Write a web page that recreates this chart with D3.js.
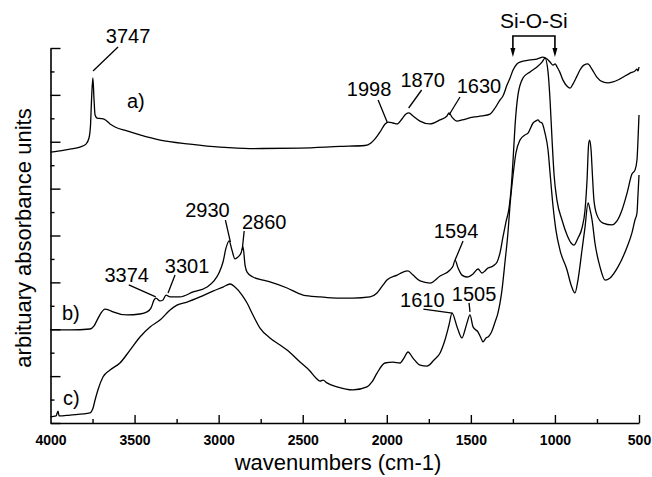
<!DOCTYPE html>
<html>
<head>
<meta charset="utf-8">
<script src="https://cdn.jsdelivr.net/npm/d3@7"></script>
<style>
  body { margin: 0; background: #fff; }
  svg { display: block; font-family: "Liberation Sans", Arial, Helvetica, sans-serif; }
</style>
</head>
<body>
<svg id="chart" width="652" height="477"></svg>
<script>
// spectra: [wavenumber, arbitrary absorbance]
const spectrumA = [
  [4000,11.56],[3955,11.60],[3884,11.69],[3825,11.77],[3789,11.90],[3771,12.16],[3762,12.71],[3756,13.78],
  [3748,14.72],[3741,13.78],[3735,13.14],[3723,13.01],[3700,12.99],[3682,12.97],[3646,12.76],[3616,12.63],
  [3545,12.46],[3468,12.29],[3348,12.07],[3170,11.90],[2992,11.77],[2814,11.71],[2516,11.73],[2278,11.80],
  [2130,11.84],[2094,11.95],[2070,12.12],[2040,12.42],[2010,12.76],[1990,12.84],[1963,12.80],[1939,12.76],
  [1910,12.97],[1886,13.18],[1868,13.23],[1844,13.10],[1803,12.88],[1743,12.76],[1684,12.93],[1642,13.10],
  [1630,13.23],[1612,13.05],[1582,12.88],[1552,12.93],[1487,13.05],[1434,13.10],[1386,13.18],[1356,13.44],
  [1327,13.78],[1309,13.95],[1285,14.42],[1267,14.72],[1249,15.06],[1226,15.32],[1208,15.40],[1149,15.49],
  [1107,15.53],[1071,15.61],[1047,15.53],[1029,15.40],[1011,15.27],[999,15.32],[987,15.19],[971,14.97],
  [952,14.63],[929,14.38],[910,14.29],[893,14.46],[869,14.80],[851,15.06],[828,15.27],[804,15.32],
  [780,15.10],[751,14.76],[715,14.55],[684,14.51],[655,14.55],[613,14.68],[553,14.93],[524,15.02],
  [512,15.10],[506,15.02],[500,15.19]
];

const spectrumB = [
  [4000,3.97],[3884,3.97],[3765,4.01],[3741,4.14],[3723,4.39],[3700,4.69],[3676,4.86],[3652,4.82],
  [3628,4.74],[3545,4.61],[3468,4.65],[3426,4.74],[3402,4.91],[3384,5.25],[3373,5.33],[3349,5.21],
  [3331,5.25],[3313,5.46],[3289,5.38],[3230,5.38],[3152,5.59],[3069,5.80],[3028,6.06],[2998,6.40],
  [2974,6.87],[2956,7.47],[2938,7.77],[2921,7.38],[2903,7.00],[2885,7.08],[2867,7.25],[2855,7.51],
  [2843,6.74],[2831,6.44],[2796,6.23],[2736,6.10],[2695,6.02],[2593,5.76],[2498,5.46],[2397,5.38],
  [2296,5.33],[2201,5.33],[2100,5.38],[2058,5.55],[2022,5.89],[1999,6.10],[1939,6.31],[1904,6.44],
  [1874,6.49],[1844,6.31],[1802,6.06],[1743,5.97],[1683,6.27],[1624,6.53],[1606,6.70],[1594,6.95],
  [1576,6.61],[1553,6.31],[1523,6.23],[1487,6.36],[1457,6.57],[1434,6.40],[1416,6.49],[1398,6.61],
  [1368,6.70],[1344,6.87],[1327,7.25],[1309,7.94],[1291,8.58],[1273,9.17],[1261,9.94],[1249,11.22],
  [1237,12.71],[1220,13.99],[1190,14.72],[1148,14.98],[1107,15.19],[1077,15.40],[1059,15.57],[1041,14.98],
  [1029,13.78],[1017,12.07],[1005,10.58],[988,9.51],[958,8.66],[928,8.02],[904,7.68],[887,7.59],
  [863,7.89],[839,8.32],[821,9.09],[809,10.37],[800,11.86],[794,12.07],[785,11.65],[777,10.58],
  [768,9.51],[750,8.87],[714,8.53],[661,8.45],[631,8.62],[601,9.09],[571,9.81],[542,10.62],
  [524,10.79],[512,11.22],[506,12.07],[500,13.14]
];

const spectrumC = [
  [4000,0.26],[3967,0.30],[3955,0.51],[3949,0.30],[3884,0.34],[3765,0.43],[3747,0.64],[3735,0.98],
  [3718,1.41],[3688,1.96],[3646,2.26],[3587,2.56],[3527,3.11],[3468,3.67],[3408,4.10],[3349,4.39],
  [3289,4.82],[3248,5.03],[3188,5.16],[3111,5.38],[3034,5.63],[2974,5.80],[2932,5.93],[2903,5.80],
  [2861,5.46],[2831,5.12],[2796,4.61],[2754,4.05],[2695,3.63],[2635,3.33],[2593,3.11],[2516,2.60],
  [2457,2.22],[2421,1.92],[2397,1.79],[2379,1.83],[2356,1.71],[2296,1.54],[2201,1.41],[2118,1.54],
  [2088,1.75],[2058,2.13],[2011,2.56],[1963,2.60],[1921,2.56],[1898,2.77],[1874,3.03],[1844,2.77],
  [1802,2.47],[1761,2.43],[1719,2.69],[1683,2.99],[1654,3.54],[1630,4.18],[1612,4.69],[1582,4.10],
  [1553,3.63],[1535,3.97],[1523,4.27],[1505,4.61],[1487,4.10],[1457,3.88],[1440,3.63],[1428,3.46],
  [1410,3.63],[1398,3.67],[1380,3.84],[1356,4.31],[1339,4.69],[1315,5.67],[1297,6.87],[1279,8.15],
  [1267,9.30],[1249,10.58],[1232,11.52],[1208,12.07],[1178,12.29],[1160,12.37],[1130,12.80],[1113,12.89],
  [1101,12.93],[1089,12.84],[1077,12.80],[1059,12.37],[1041,11.65],[1029,10.67],[1012,9.30],[994,8.23],
  [970,7.38],[928,6.53],[904,5.89],[881,5.55],[863,6.10],[839,7.38],[821,8.36],[803,9.39],
  [791,9.09],[779,8.66],[762,7.68],[732,6.66],[702,6.10],[672,6.19],[625,6.66],[571,7.51],
  [542,8.11],[524,8.66],[512,8.96],[506,9.73],[500,10.58]
];

const seriesNames = ["a)", "b)", "c)"];
const xMajorTicks = [4000, 3500, 3000, 2500, 2000, 1500, 1000, 500];
const xMinorTicks = [3750, 3250, 2750, 2250, 1750, 1250, 750];
const yMajorTicks = [0, 2, 4, 6, 8, 10, 12, 14, 16];
const yMinorTicks = [1, 3, 5, 7, 9, 11, 13, 15];

// peak labels: text, wavenumber and absorbance where the pointer ends
const peakTexts = ["3747", "1998", "1870", "1630", "2930", "2860", "3374", "3301", "1594", "1610", "1505"];
const peakWavenumbers = [3747, 1998, 1870, 1630, 2930, 2860, 3374, 3301, 1594, 1610, 1505];
const peakValues = [15.02, 12.84, 13.44, 13.14, 7.72, 7.38, 5.38, 5.55, 6.95, 4.69, 4.74];
const bandText = "Si-O-Si";
const bandRange = [1250, 1000];

// layout (pixels)
const labelOffsets = [[35,-28],[-18,-26],[14,-21],[30,-22],[-23,-25],[22,-21],[-29,-15],[19,-20],[1,-22],[-30,-6],[4,-11]];
const pointerStarts = [[25,-24],[-9,-22],[13,-18],[11,-18],[-5,-22],[2,-19],[-27,-12],[7,-18],[8,-19],[-29,-4],[-1,-9]];
const nameOffsets = [[127,108],[62,320],[63,405]];

let svg = d3.select("#chart");
let fontFamily = '"Liberation Sans", Arial, Helvetica, sans-serif';

let x = d3.scaleLinear().domain([4000, 500]).range([50.5, 639]);
let y = d3.scaleLinear().domain([0, 16]).range([423, 48]);

// x axis - ticks point inward
let xAxis = svg.append("g")
  .attr("transform", "translate(0,423)")
  .call(d3.axisBottom(x).tickValues(xMajorTicks).tickSizeInner(-8).tickSizeOuter(0).tickPadding(12).tickFormat(d3.format("d")));
xAxis.select(".domain").attr("stroke-width", 1.6);
xAxis.selectAll(".tick line").attr("stroke-width", 1.4);
xAxis.selectAll(".tick text")
  .style("font-family", fontFamily)
  .style("font-size", "14px")
  .style("font-weight", "bold")
  .attr("fill", "#000");
xAxis.select(".tick:first-of-type line").remove();

svg.append("g")
  .attr("transform", "translate(0,423)")
  .call(d3.axisBottom(x).tickValues(xMinorTicks).tickSizeInner(-4).tickSizeOuter(0).tickFormat(""))
  .call(g => g.select(".domain").remove())
  .selectAll(".tick line").attr("stroke-width", 1.4);

// y axis - no labels
let yAxis = svg.append("g")
  .attr("transform", "translate(50.5,0)")
  .call(d3.axisLeft(y).tickValues(yMajorTicks).tickSizeInner(-10).tickSizeOuter(0).tickFormat(""));
yAxis.select(".domain").attr("stroke-width", 1.6);
yAxis.selectAll(".tick line").attr("stroke-width", 1.4);

svg.append("g")
  .attr("transform", "translate(50.5,0)")
  .call(d3.axisLeft(y).tickValues(yMinorTicks).tickSizeInner(-4).tickSizeOuter(0).tickFormat(""))
  .call(g => g.select(".domain").remove())
  .selectAll(".tick line").attr("stroke-width", 1.4);

// axis titles
svg.append("text")
  .attr("x", 338)
  .attr("y", 470)
  .attr("text-anchor", "middle")
  .style("font-size", "22px")
  .text("wavenumbers (cm-1)");

svg.append("text")
  .attr("transform", "translate(31,238) rotate(-90)")
  .attr("text-anchor", "middle")
  .style("font-size", "22px")
  .text("arbituary absorbance units");

// spectra
let line = d3.line()
  .x(d => x(d[0]))
  .y(d => y(d[1]))
  .curve(d3.curveMonotoneX);

svg.selectAll(".spectrum")
  .data([spectrumA, spectrumB, spectrumC])
  .enter().append("path")
    .attr("class", "spectrum")
    .attr("d", line)
    .attr("fill", "none")
    .attr("stroke", "#000")
    .attr("stroke-width", 1.3)
    .attr("stroke-linejoin", "round");

// series names
svg.selectAll(".series_name")
  .data(seriesNames)
  .enter().append("text")
    .attr("class", "series_name")
    .attr("x", (d, i) => nameOffsets[i][0])
    .attr("y", (d, i) => nameOffsets[i][1])
    .style("font-size", "20px")
    .text(d => d);

// peak pointers and labels
peakTexts.forEach(function(t, i) {
  let px = x(peakWavenumbers[i]);
  let py = y(peakValues[i]);
  svg.append("line")
    .attr("x1", px + pointerStarts[i][0])
    .attr("y1", py + pointerStarts[i][1])
    .attr("x2", px)
    .attr("y2", py)
    .attr("stroke", "#000")
    .attr("stroke-width", 1.3);
  svg.append("text")
    .attr("x", px + labelOffsets[i][0])
    .attr("y", py + labelOffsets[i][1])
    .attr("text-anchor", "middle")
    .style("font-size", "20px")
    .text(t);
});

// Si-O-Si bracket
let bx0 = x(bandRange[0]);
let bx1 = x(bandRange[1]);
svg.append("path")
  .attr("d", "M" + bx0 + ",50 L" + bx0 + ",36 L" + bx1 + ",36 L" + bx1 + ",50")
  .attr("fill", "none")
  .attr("stroke", "#000")
  .attr("stroke-width", 1.6);
[bx0, bx1].forEach(function(bx) {
  svg.append("path")
    .attr("d", "M" + (bx - 2.5) + ",48 L" + (bx + 2.5) + ",48 L" + bx + ",57 Z")
    .attr("fill", "#000");
});
svg.append("text")
  .attr("x", (bx0 + bx1) / 2)
  .attr("y", 28)
  .attr("text-anchor", "middle")
  .style("font-size", "21px")
  .text(bandText);
</script>
</body>
</html>
